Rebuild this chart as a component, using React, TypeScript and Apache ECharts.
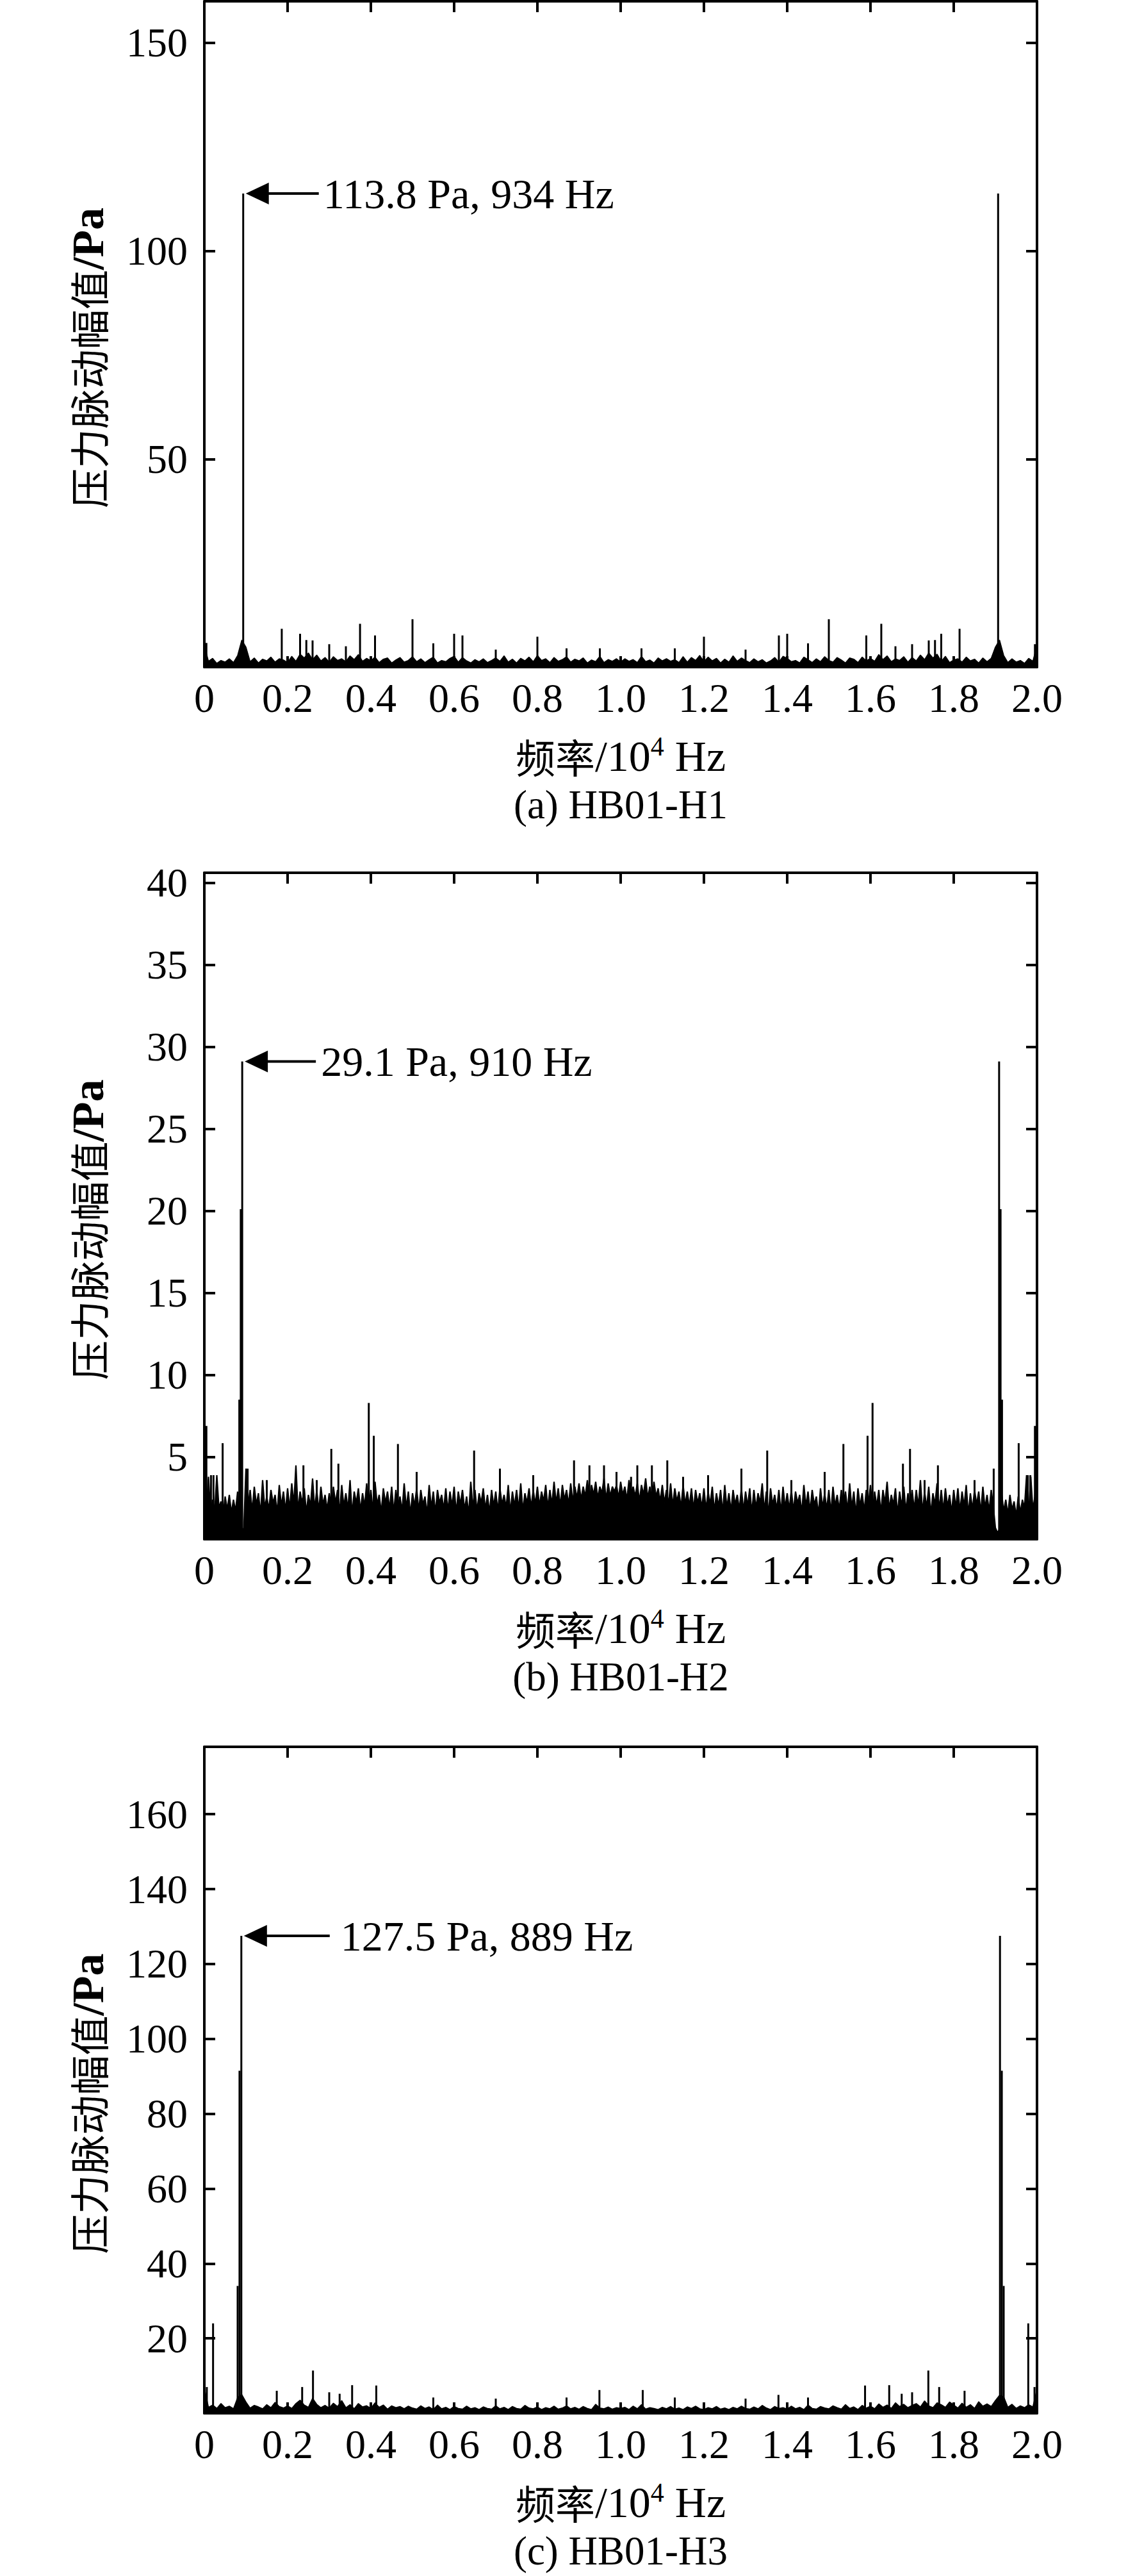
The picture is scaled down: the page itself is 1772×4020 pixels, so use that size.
import React, { useEffect, useRef } from "react";
import * as echarts from "echarts";

// ---------- data ----------
// x axis: frequency in 10^4 Hz
const X_MIN = 0;
const X_MAX = 2.0;
const X_INTERVAL = 0.2;

// y axes
const Y_MAX = [160, 40.6, 178];
const Y_INTERVAL = [50, 5, 20];

// noise floor sampled at a uniform frequency step (Pa)
const STEP_A = 0.01;
const FLOOR_A = [
  5.2, 1.4, 2.1, 0.9, 1.6, 1.2, 2.0, 1.1, 2.8, 6.5,
  4.8, 1.3, 2.2, 1.0, 1.9, 1.5, 2.4, 1.2, 2.0, 1.7,
  1.1, 2.6, 1.4, 3.1, 2.2, 3.4, 1.8, 2.9, 1.5, 2.3,
  1.2, 2.5, 1.6, 2.0, 1.3, 2.7, 1.8, 3.0, 1.4, 2.1,
  1.5, 2.4, 1.1, 1.9, 2.2, 1.0, 1.7, 2.3, 1.2, 1.6,
  2.5, 1.3, 2.0, 1.1, 1.8, 2.4, 1.0, 1.6, 1.3, 2.1,
  2.6, 1.2, 2.3, 1.5, 1.0, 1.8, 1.3, 2.0, 1.1, 1.6,
  2.2, 1.4, 2.7, 1.2, 1.9, 1.0, 2.1, 1.5, 2.4, 1.3,
  2.8, 1.6, 2.0, 1.1, 2.3, 1.4, 1.8, 2.5, 1.2, 1.9,
  1.5, 2.2, 1.0, 1.7, 1.3, 2.6, 1.1, 1.8, 1.4, 2.0,
  1.2, 2.0, 1.4, 1.8, 1.1, 2.6, 1.3, 1.7, 1.0, 2.2,
  1.5, 2.0, 1.4, 1.8, 1.1, 2.5, 1.2, 2.3, 1.6, 2.8,
  1.3, 2.4, 1.5, 2.1, 1.0, 1.9, 1.2, 2.7, 1.4, 2.2,
  1.6, 1.1, 2.0, 1.3, 1.8, 1.0, 1.5, 2.3, 1.2, 2.6,
  2.1, 1.3, 1.6, 1.0, 2.4, 1.8, 1.1, 2.0, 1.3, 2.5,
  1.6, 1.2, 2.3, 1.7, 1.0, 2.2, 1.9, 1.1, 2.4, 1.5,
  2.1, 1.4, 3.0, 1.8, 2.7, 1.3, 2.0, 1.6, 2.5, 1.2,
  2.3, 1.5, 2.9, 1.8, 3.4, 2.2, 3.1, 1.4, 2.6, 1.1,
  1.7, 2.0, 1.2, 2.4, 1.5, 1.9, 1.0, 2.2, 1.3, 2.1,
  4.8, 6.5, 2.8, 1.1, 2.0, 1.2, 1.6, 0.9, 2.1, 1.4,
  5.2,
];

const STEP_B = 0.005;
const FLOOR_B = [
  6.9, 1.8, 3.8, 1.5, 2.4, 1.7, 3.9, 1.9, 2.3, 1.4, 2.6, 1.8, 2.7, 1.6, 2.4, 1.7, 2.9, 0.6, 0.4, 0.7,
  4.3, 2.0, 3.0, 1.7, 3.2, 2.1, 2.8, 1.5, 3.6, 1.9, 2.6, 1.8, 3.0, 2.2, 2.7, 1.6, 3.3, 2.0, 2.9, 1.7,
  3.1, 1.8, 3.4, 2.1, 4.5, 1.7, 2.9, 2.2, 3.1, 1.6, 2.7, 2.0, 3.7, 1.8, 3.0, 1.7, 3.2, 2.1, 2.7, 1.8,
  2.8, 1.9, 3.2, 2.2, 3.0, 1.6, 3.3, 2.0, 2.8, 1.8, 3.6, 1.5, 2.9, 2.2, 3.1, 1.7, 2.8, 2.0, 3.4, 1.8,
  3.0, 1.7, 3.5, 2.1, 2.7, 1.6, 3.1, 2.2, 2.9, 1.8, 3.2, 1.6, 3.0, 2.0, 2.6, 1.7, 3.4, 1.9, 2.9, 1.5,
  2.8, 2.0, 3.1, 1.7, 3.0, 2.1, 2.6, 1.5, 3.3, 1.9, 2.9, 1.6, 3.0, 2.2, 2.7, 1.8, 3.1, 1.7, 2.9, 2.0,
  3.2, 1.6, 2.9, 2.1, 3.0, 1.8, 2.6, 1.5, 3.5, 1.9, 3.0, 1.7, 2.8, 2.2, 3.1, 1.8, 2.7, 1.6, 3.0, 2.0,
  2.9, 1.7, 3.1, 2.1, 2.7, 1.9, 3.3, 1.6, 2.9, 2.0, 3.0, 1.8, 3.4, 1.7, 2.8, 2.2, 3.1, 1.9, 3.0, 2.1,
  3.2, 2.0, 2.9, 2.3, 3.3, 1.9, 3.0, 2.1, 3.5, 2.2, 3.1, 2.0, 3.3, 2.4, 3.0, 2.1, 3.4, 2.3, 3.2, 2.5,
  3.4, 2.4, 3.2, 2.6, 3.6, 2.3, 3.3, 2.7, 3.5, 2.5, 3.2, 2.8, 3.7, 2.4, 3.4, 2.6, 3.2, 2.9, 3.3, 2.5,
  3.5, 2.7, 3.2, 2.4, 3.6, 2.8, 3.2, 2.6, 3.4, 2.3, 3.3, 2.7, 3.7, 2.5, 3.2, 2.4, 3.5, 2.6, 3.1, 2.3,
  3.3, 2.2, 3.0, 2.1, 3.4, 2.0, 3.1, 2.3, 2.9, 1.9, 3.3, 2.1, 2.9, 2.0, 3.1, 1.8, 3.0, 2.2, 2.8, 1.9,
  3.1, 1.8, 2.9, 2.1, 3.2, 1.7, 2.8, 2.0, 3.0, 1.6, 3.3, 1.9, 2.8, 1.7, 3.0, 2.1, 2.7, 1.8, 3.1, 1.7,
  2.9, 2.0, 3.1, 1.6, 3.0, 1.9, 2.8, 2.2, 3.4, 1.7, 2.9, 1.5, 3.1, 2.1, 2.7, 1.8, 3.0, 1.6, 3.2, 1.9,
  2.8, 1.8, 3.0, 1.7, 2.9, 2.2, 2.7, 1.6, 3.3, 2.0, 2.9, 1.7, 3.0, 2.1, 2.6, 1.5, 3.1, 1.9, 2.8, 1.8,
  3.0, 1.6, 3.2, 2.0, 2.7, 1.8, 3.0, 2.1, 2.9, 1.7, 3.4, 1.9, 2.9, 1.5, 3.1, 2.0, 2.8, 1.7, 3.0, 2.1,
  3.3, 1.7, 2.9, 2.0, 3.0, 1.6, 3.0, 2.2, 3.5, 1.8, 2.7, 2.1, 3.1, 1.5, 2.9, 2.0, 3.2, 1.7, 2.8, 1.9,
  3.0, 1.8, 3.0, 2.0, 3.6, 1.6, 2.9, 1.9, 3.2, 1.5, 2.8, 2.1, 3.4, 1.8, 3.0, 1.7, 3.1, 2.0, 2.7, 1.6,
  3.0, 1.9, 3.1, 1.7, 2.9, 2.0, 3.3, 1.5, 2.8, 1.8, 3.0, 2.1, 2.9, 1.6, 3.2, 1.9, 2.7, 1.7, 3.0, 2.0,
  0.7, 0.4, 0.6, 2.8, 1.7, 2.4, 1.5, 2.7, 1.8, 2.3, 1.4, 2.6, 1.6, 2.4, 1.9, 3.9, 1.5, 3.8, 1.8, 2.6,
  6.9,
];

const STEP_C = 0.01;
const FLOOR_C = [
  6.8, 1.6, 2.2, 1.3, 2.6, 1.5, 1.9, 1.2, 4.2, 5.0,
  3.0, 1.4, 2.1, 1.7, 1.2, 2.3, 1.5, 2.9, 1.8, 1.4,
  2.0, 1.3, 2.6, 3.5, 2.2, 1.6, 4.0, 2.4, 1.5, 2.1,
  1.4, 2.7, 1.8, 3.4, 1.5, 2.3, 1.2, 2.6, 1.7, 2.0,
  1.3, 2.8, 1.6, 2.2, 1.1, 2.0, 1.5, 1.8, 1.2, 1.9,
  1.4, 1.1, 2.0, 1.3, 1.7, 1.0, 2.2, 1.2, 1.6, 1.0,
  1.8, 1.3, 1.1, 1.9, 1.2, 1.5, 1.0, 1.7, 1.3, 1.1,
  2.0, 1.2, 1.6, 1.0, 1.8, 1.3, 1.1, 2.1, 1.4, 1.2,
  1.7, 1.0, 1.5, 1.2, 1.9, 1.1, 1.4, 2.0, 1.2, 1.6,
  1.1, 1.8, 1.3, 1.0, 2.4, 1.4, 1.2, 1.7, 1.1, 1.5,
  1.3, 1.6, 1.0, 1.9, 1.2, 2.3, 1.1, 1.5, 1.3, 1.0,
  1.6, 1.2, 1.8, 1.1, 1.4, 1.0, 1.7, 1.3, 1.9, 1.2,
  1.0, 1.5, 1.2, 1.8, 1.1, 1.4, 1.0, 1.6, 1.2, 1.9,
  1.3, 1.1, 1.7, 1.2, 2.1, 1.4, 1.0, 1.8, 1.3, 1.5,
  1.1, 1.9, 1.2, 1.6, 1.0, 2.2, 1.3, 1.1, 1.8, 1.4,
  1.2, 2.0, 1.5, 1.1, 2.3, 1.3, 1.7, 1.0, 2.1, 1.4,
  1.9, 1.2, 2.5, 1.6, 2.2, 1.3, 2.8, 1.8, 2.4, 1.5,
  2.1, 2.6, 1.7, 3.3, 2.0, 1.5, 2.8, 2.3, 1.6, 3.0,
  2.2, 1.4, 2.7, 1.6, 2.3, 1.3, 3.1, 1.9, 2.5, 1.8,
  3.4, 4.8, 4.4, 1.6, 2.4, 1.3, 2.0, 1.5, 2.3, 1.7,
  6.5,
];

// distinct spectral lines [frequency (10^4 Hz), amplitude (Pa)]
const SPIKES_A = [
  [0.005, 5.8], [0.0934, 113.8], [0.186, 9.2], [0.23, 8.0], [0.245, 6.5], [0.26, 6.4],
  [0.3, 5.5], [0.34, 5.0], [0.374, 10.4], [0.41, 7.6], [0.5, 11.5], [0.55, 5.7],
  [0.6, 8.0], [0.62, 7.6], [0.7, 4.2], [0.8, 7.3], [0.87, 4.5], [0.95, 4.5],
  [1.05, 4.5], [1.13, 4.5], [1.2, 7.3], [1.3, 4.2], [1.38, 7.6], [1.4, 8.0],
  [1.45, 5.7], [1.5, 11.5], [1.59, 7.6], [1.626, 10.4], [1.66, 5.0], [1.7, 5.5],
  [1.74, 6.4], [1.755, 6.5], [1.77, 8.0], [1.814, 9.2], [1.9066, 113.8], [1.995, 5.5],
];

const SPIKES_B = [
  [0.005, 6.9], [0.016, 3.9], [0.022, 3.9], [0.044, 5.85], [0.084, 8.5], [0.0875, 20.1],
  [0.091, 29.1], [0.104, 4.3], [0.15, 3.6], [0.238, 4.5], [0.27, 3.6], [0.305, 5.5],
  [0.322, 4.6], [0.395, 8.3], [0.407, 6.3], [0.465, 5.8], [0.51, 4.1], [0.648, 5.4],
  [0.71, 4.3], [0.79, 3.9], [0.888, 4.8], [0.925, 4.5], [0.96, 4.5], [0.99, 4.1],
  [1.025, 3.8], [1.04, 4.5], [1.075, 4.5], [1.112, 4.8], [1.15, 3.8], [1.21, 3.9],
  [1.29, 4.3], [1.352, 5.4], [1.41, 3.6], [1.49, 4.1], [1.535, 5.8], [1.593, 6.3],
  [1.605, 8.3], [1.678, 4.6], [1.695, 5.5], [1.73, 3.6], [1.762, 4.5], [1.85, 3.6],
  [1.896, 4.3], [1.909, 29.1], [1.9125, 20.1], [1.916, 8.5], [1.956, 5.85], [1.978, 3.9],
  [1.984, 3.9], [1.995, 6.9],
];

const SPIKES_C = [
  [0.006, 7.0], [0.021, 24.0], [0.08, 34.0], [0.0845, 91.5], [0.0889, 127.5], [0.174, 6.0],
  [0.235, 7.0], [0.261, 11.4], [0.3, 5.6], [0.325, 5.2], [0.355, 7.5], [0.413, 7.4],
  [0.55, 4.2], [0.7, 3.9], [0.87, 4.2], [0.949, 6.2], [1.053, 6.2], [1.13, 4.2],
  [1.3, 3.9], [1.379, 4.9], [1.45, 4.2], [1.587, 7.4], [1.645, 7.5], [1.675, 5.2],
  [1.7, 5.6], [1.739, 11.4], [1.765, 7.0], [1.826, 6.0], [1.9111, 127.5], [1.9155, 91.5],
  [1.92, 34.0], [1.979, 24.0], [1.994, 7.0],
];

// annotated peaks
const PEAK_A = { x: 0.0934, y: 113.8, label: "113.8 Pa, 934 Hz" };
const PEAK_B = { x: 0.091, y: 29.1, label: "29.1 Pa, 910 Hz" };
const PEAK_C = { x: 0.0889, y: 127.5, label: "127.5 Pa, 889 Hz" };

const CAPTIONS = ["(a) HB01-H1", "(b) HB01-H2", "(c) HB01-H3"];
const X_NAME = "{c|频率}{l|/10}{s|4}{l| Hz}";
const Y_NAME = "{c|压力脉动幅值}{b|/Pa}";

// ---------- layout ----------
const GRID_LEFT = 319;
const GRID_WIDTH = 1300;
const GRID_TOPS = [2, 1362, 2726];
const GRID_HEIGHT = [1039, 1040, 1040];
const FLOOR_WIDTH = [1.5, 2.2, 1.5];
const ARROW = [
  { dx: 4, lineEnd: 114, textOff: 121 },
  { dx: 4, lineEnd: 111, textOff: 119 },
  { dx: 4, lineEnd: 134, textOff: 151 },
];

const SERIF = '"Liberation Serif", "Noto Sans CJK SC", serif';
const CJK = '"Noto Sans CJK SC", sans-serif';

const PANELS = [
  { floor: FLOOR_A, step: STEP_A, spikes: SPIKES_A, peak: PEAK_A },
  { floor: FLOOR_B, step: STEP_B, spikes: SPIKES_B, peak: PEAK_B },
  { floor: FLOOR_C, step: STEP_C, spikes: SPIKES_C, peak: PEAK_C },
];

const AXIS_LINE = { show: true, onZero: false, lineStyle: { color: "#000", width: 4 } };
const AXIS_TICK = { show: true, inside: true, length: 17, lineStyle: { color: "#000", width: 4 } };

function buildOption() {
  const grid: any[] = [];
  const xAxis: any[] = [];
  const yAxis: any[] = [];
  const series: any[] = [];
  const n = PANELS.length;
  PANELS.forEach((p, k) => {
    grid.push({ left: GRID_LEFT, width: GRID_WIDTH, top: GRID_TOPS[k], height: GRID_HEIGHT[k] });
    const yInt = Y_INTERVAL[k];
    xAxis[k] = {
      type: "value", gridIndex: k, position: "bottom",
      min: X_MIN, max: X_MAX, interval: X_INTERVAL,
      axisLine: AXIS_LINE, axisTick: AXIS_TICK, splitLine: { show: false },
      axisLabel: {
        margin: 16, fontSize: 64, fontFamily: SERIF, color: "#000",
        formatter: (v: number) => (Math.abs(v) < 1e-9 ? "0" : v.toFixed(1)),
      },
      name: X_NAME, nameLocation: "middle", nameGap: 103,
      nameTextStyle: {
        color: "#000",
        rich: {
          c: { fontFamily: CJK, fontSize: 62, lineHeight: 72, color: "#000" },
          l: { fontFamily: SERIF, fontSize: 68, lineHeight: 72, color: "#000" },
          s: { fontFamily: SERIF, fontSize: 42, lineHeight: 72, verticalAlign: "top", color: "#000" },
        },
      },
    };
    xAxis[n + k] = {
      type: "value", gridIndex: k, position: "top",
      min: X_MIN, max: X_MAX, interval: X_INTERVAL,
      axisLine: AXIS_LINE, axisTick: AXIS_TICK, splitLine: { show: false },
      axisLabel: { show: false },
    };
    yAxis[k] = {
      type: "value", gridIndex: k, position: "left",
      min: 0, max: Y_MAX[k], interval: yInt,
      axisLine: AXIS_LINE, axisTick: AXIS_TICK, splitLine: { show: false },
      axisLabel: {
        margin: 26, fontSize: 64, fontFamily: SERIF, color: "#000",
        formatter: (v: number) => {
          const r = v / yInt;
          return v > 0 && Math.abs(r - Math.round(r)) < 1e-6 ? String(Math.round(v)) : "";
        },
      },
      name: Y_NAME, nameLocation: "middle", nameRotate: 90, nameGap: 146,
      nameTextStyle: {
        color: "#000",
        padding: [0, 74, 0, 0],
        rich: {
          c: { fontFamily: CJK, fontSize: 62, lineHeight: 72, color: "#000" },
          b: { fontFamily: SERIF, fontSize: 70, fontWeight: "bold", lineHeight: 72, color: "#000" },
        },
      },
    };
    yAxis[n + k] = {
      type: "value", gridIndex: k, position: "right",
      min: 0, max: Y_MAX[k], interval: yInt,
      axisLine: AXIS_LINE, axisTick: AXIS_TICK, splitLine: { show: false },
      axisLabel: { show: false },
    };
    series.push({
      type: "line", xAxisIndex: k, yAxisIndex: k,
      data: p.floor.map((v, i) => [Number((i * p.step).toFixed(4)), v]),
      symbol: "none", showSymbol: false, silent: true,
      lineStyle: { color: "#000", width: FLOOR_WIDTH[k] },
      areaStyle: { color: "#000", opacity: 1 },
      z: 2,
    });
    series.push({
      type: "bar", xAxisIndex: k, yAxisIndex: k,
      data: p.spikes, barWidth: 3, silent: true,
      itemStyle: { color: "#000" },
      z: 3,
    });
  });
  return {
    animation: false,
    backgroundColor: "#fff",
    textStyle: { fontFamily: SERIF, color: "#000" },
    grid, xAxis, yAxis, series,
  };
}

export default function App() {
  const ref = useRef<HTMLDivElement>(null);
  useEffect(() => {
    if (!ref.current) return;
    const chart = echarts.init(ref.current, null, { renderer: "svg" });
    chart.setOption(buildOption());
    const graphic: any[] = [];
    PANELS.forEach((p, k) => {
      const pt = chart.convertToPixel({ seriesIndex: 2 * k + 1 }, [p.peak.x, p.peak.y]) as number[];
      const a = ARROW[k];
      const tx = pt[0] + a.dx;
      const ty = pt[1];
      graphic.push({
        type: "polygon", silent: true,
        shape: { points: [[tx, ty], [tx + 36, ty - 17], [tx + 36, ty + 17]] },
        style: { fill: "#000" },
      });
      graphic.push({
        type: "line", silent: true,
        shape: { x1: tx + 30, y1: ty, x2: tx + a.lineEnd, y2: ty },
        style: { stroke: "#000", lineWidth: 4 },
      });
      graphic.push({
        type: "text", silent: true, x: tx + a.textOff, y: ty,
        style: {
          text: p.peak.label, font: `66px ${SERIF}`, fill: "#000",
          align: "left", verticalAlign: "middle", textAlign: "left", textVerticalAlign: "middle",
        },
      });
      const bottom = GRID_TOPS[k] + GRID_HEIGHT[k];
      graphic.push({
        type: "text", silent: true, x: GRID_LEFT + GRID_WIDTH / 2, y: bottom + 215,
        style: {
          text: CAPTIONS[k], font: `63px ${SERIF}`, fill: "#000",
          align: "center", verticalAlign: "middle", textAlign: "center", textVerticalAlign: "middle",
        },
      });
    });
    chart.setOption({ graphic });
    return () => chart.dispose();
  }, []);
  return (
    <div
      ref={ref}
      style={{ position: "absolute", left: 0, top: 0, width: 1772, height: 4020, background: "#fff" }}
    />
  );
}
